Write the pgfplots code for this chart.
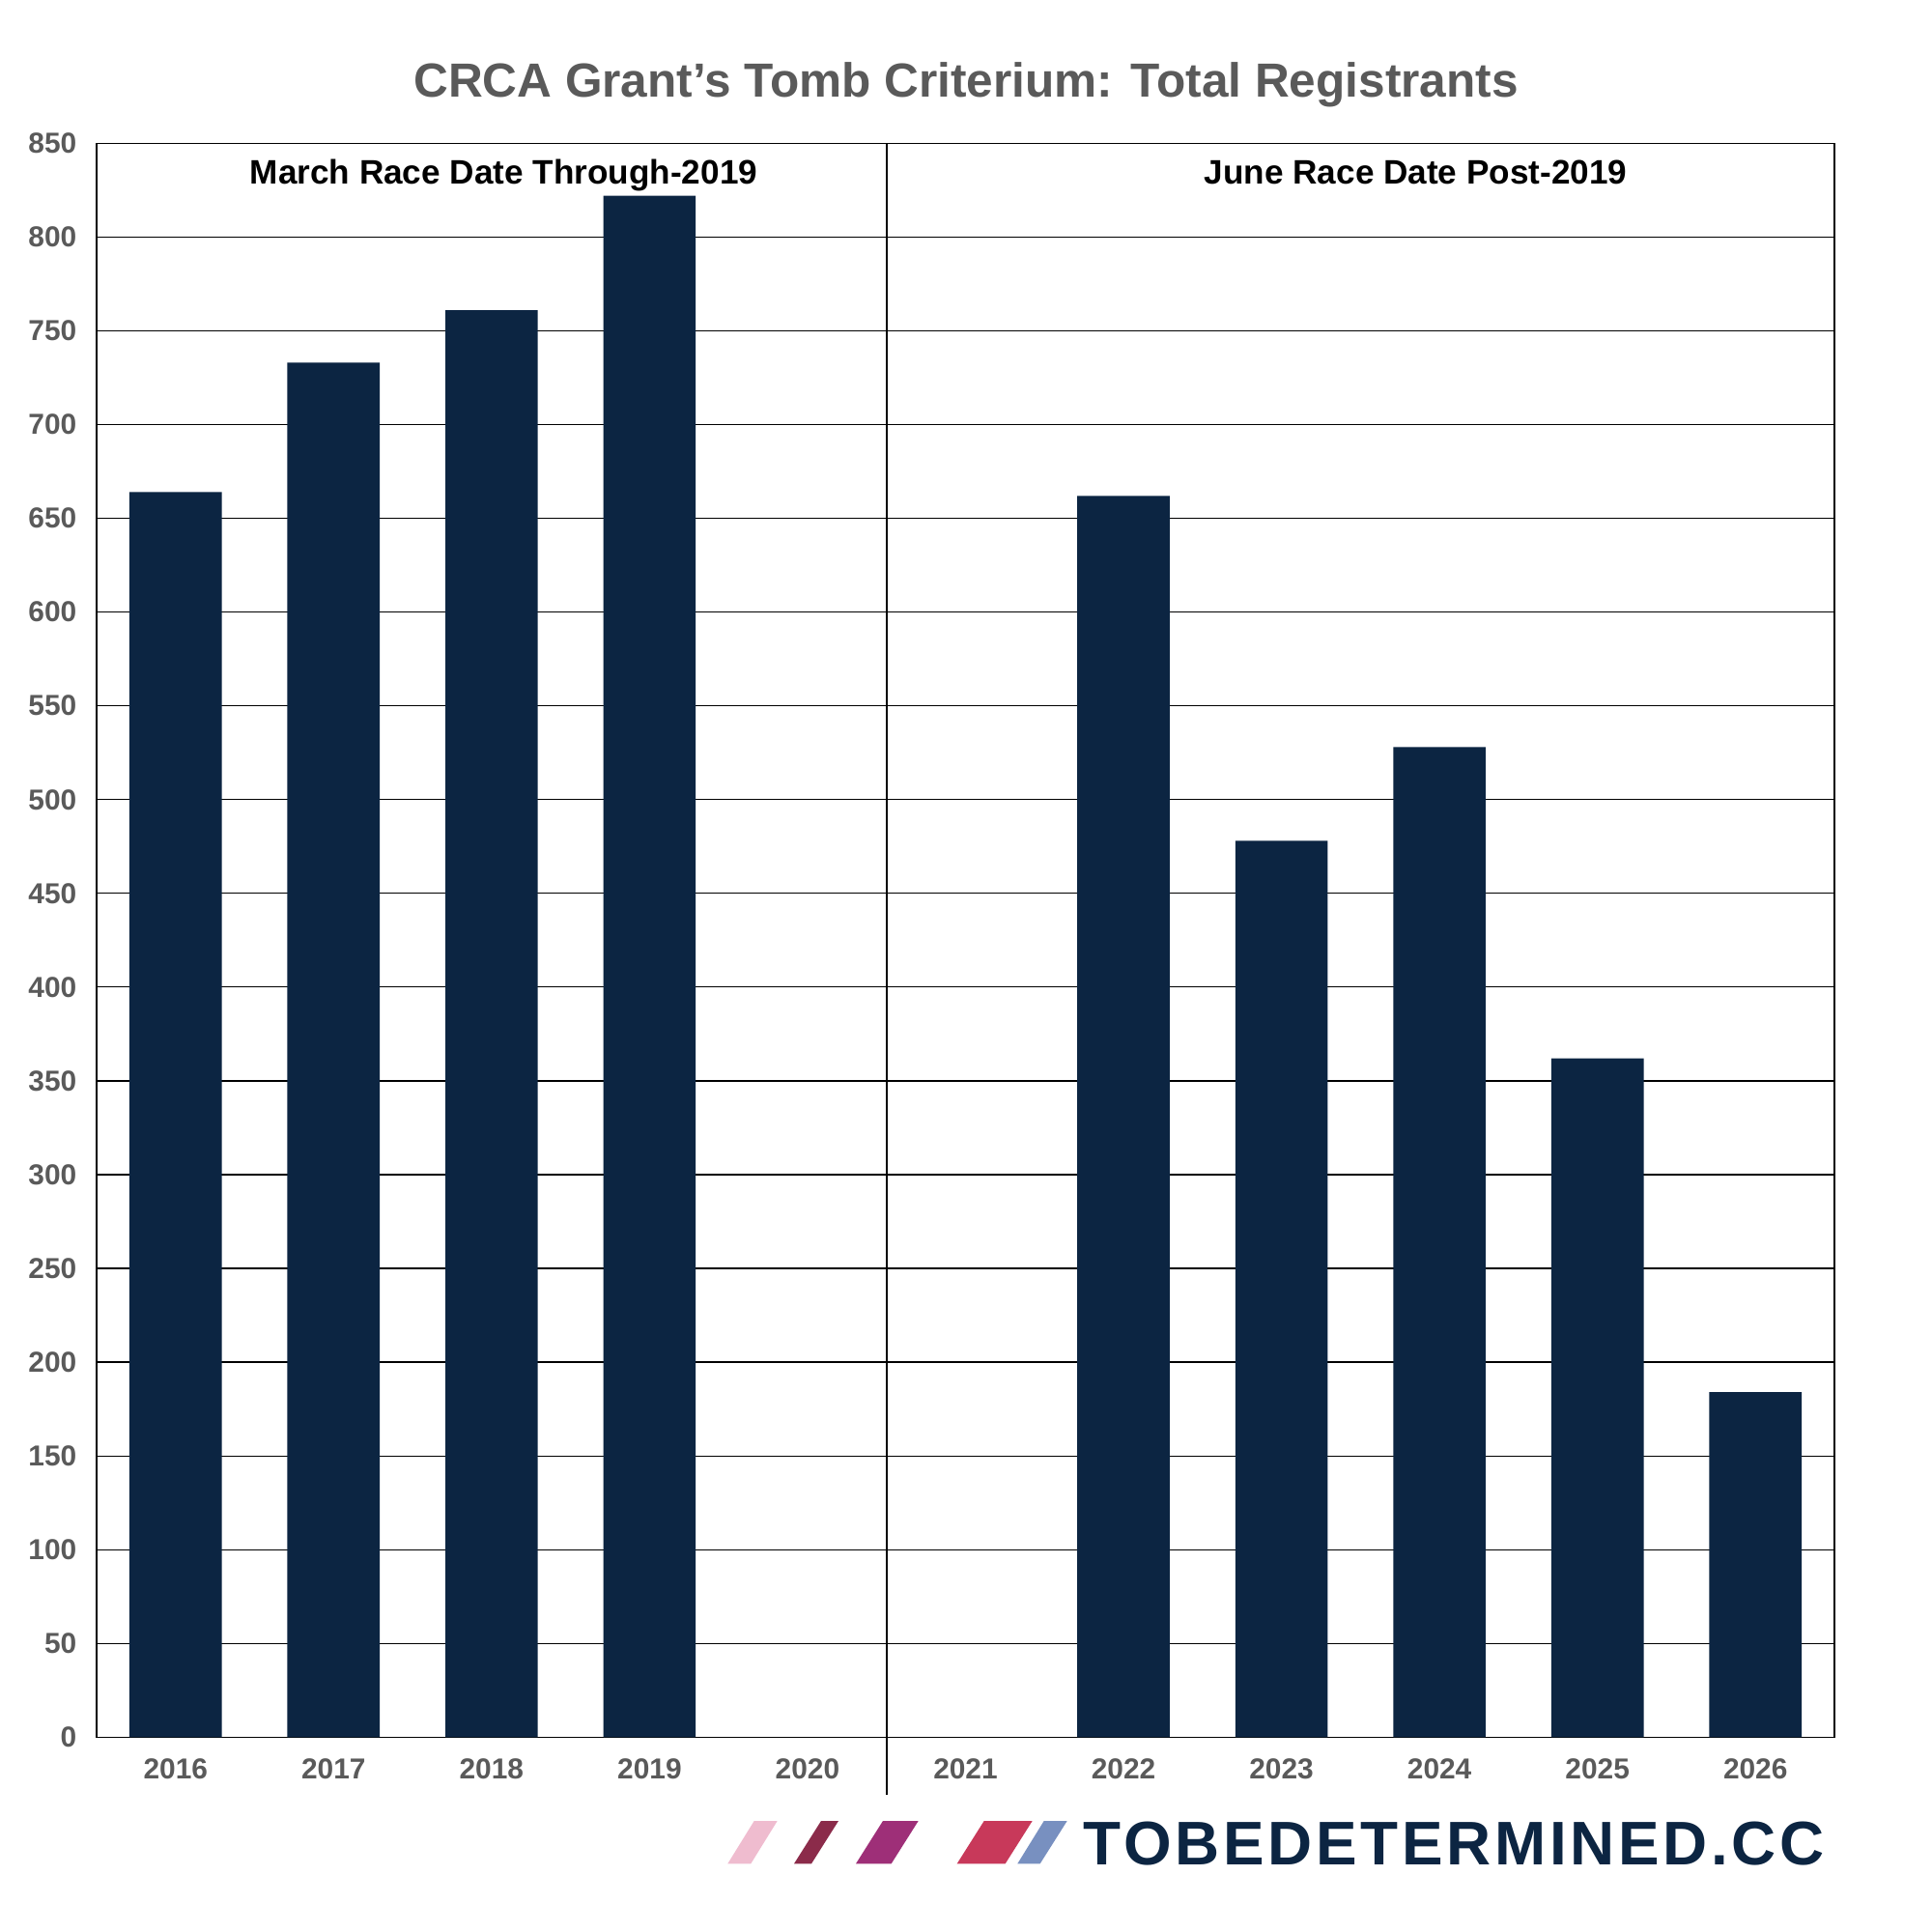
\documentclass[border=0pt]{standalone}
\usepackage{fontspec}
\setmainfont{Liberation Sans}
\usepackage{pgfplots}
\pgfplotsset{compat=1.18}
\definecolor{barc}{HTML}{0C2542}
\definecolor{tickgray}{HTML}{5A5A5A}
\definecolor{lpink}{HTML}{EFBCCF}
\definecolor{lmaroon}{HTML}{8B2B4A}
\definecolor{lpurple}{HTML}{9E2F78}
\definecolor{lred}{HTML}{C8395A}
\definecolor{lblue}{HTML}{7890C0}
\begin{document}
\begin{tikzpicture}
\begin{axis}[
  at={(0,0)}, anchor=south west,
  scale only axis, width=179.9mm, height=165mm,
  xmin=-0.5, xmax=10.5, ymin=0, ymax=850,
  ytick={0,50,...,850},
  xtick={0,...,10},
  xticklabels={2016,2017,2018,2019,2020,2021,2022,2023,2024,2025,2026},
  major tick length=0pt,
  ymajorgrids,
  grid style={black, line width=0.35pt},
  axis line style={black, line width=0.35pt},
  ybar, bar width=0.585,
  clip=false,
  tick label style={font=\bfseries\fontsize{8.5}{10}\selectfont, text=tickgray},
  xticklabel style={anchor=base, yshift=-4.34mm},
  yticklabel style={anchor=east, inner xsep=0pt, xshift=-2mm},
  /pgf/number format/assume math mode=true,
]
\addplot[fill=barc, draw=none] coordinates {(0,664) (1,733) (2,761) (3,822) (6,662) (7,478) (8,528) (9,362) (10,184)};
\draw[line width=0.7pt, black] (axis cs:4.5,850) -- (axis cs:4.5,-30.9);
\node[anchor=base, inner sep=0pt, font=\bfseries\fontsize{10}{12}\selectfont] at (axis cs:2.077,828.1) {March Race Date Through-2019};
\node[anchor=base, inner sep=0pt, font=\bfseries\fontsize{10}{12}\selectfont] at (axis cs:7.85,828.1) {June Race Date Post-2019};
\end{axis}
\node[anchor=base, inner sep=0pt, text=tickgray, font=\bfseries\fontsize{14.1}{16}\selectfont] at (90mm,169.73mm) {CRCA Grant’s Tomb Criterium: Total Registrants};
\fill[lpink] (65.33mm,-13.10mm) -- (67.73mm,-13.10mm) -- (70.47mm,-8.67mm) -- (68.07mm,-8.67mm) -- cycle;
\fill[lmaroon] (72.2mm,-13.10mm) -- (74.0mm,-13.10mm) -- (76.8mm,-8.67mm) -- (75.0mm,-8.67mm) -- cycle;
\fill[lpurple] (78.6mm,-13.10mm) -- (82.27mm,-13.10mm) -- (85.07mm,-8.67mm) -- (81.4mm,-8.67mm) -- cycle;
\fill[lred] (89.07mm,-13.10mm) -- (94.07mm,-13.10mm) -- (96.87mm,-8.67mm) -- (91.87mm,-8.67mm) -- cycle;
\fill[lblue] (95.33mm,-13.10mm) -- (97.67mm,-13.10mm) -- (100.47mm,-8.67mm) -- (98.07mm,-8.67mm) -- cycle;
\node[anchor=base west, inner sep=0pt, text=barc, font=\bfseries\fontsize{18.15}{20}\selectfont\addfontfeature{LetterSpace=5.8}] at (102.1mm,-13.24mm) {TOBEDETERMINED.CC};
\pgfresetboundingbox
\useasboundingbox (-10mm,-20.17mm) rectangle (190mm,179.83mm);
\end{tikzpicture}
\end{document}
